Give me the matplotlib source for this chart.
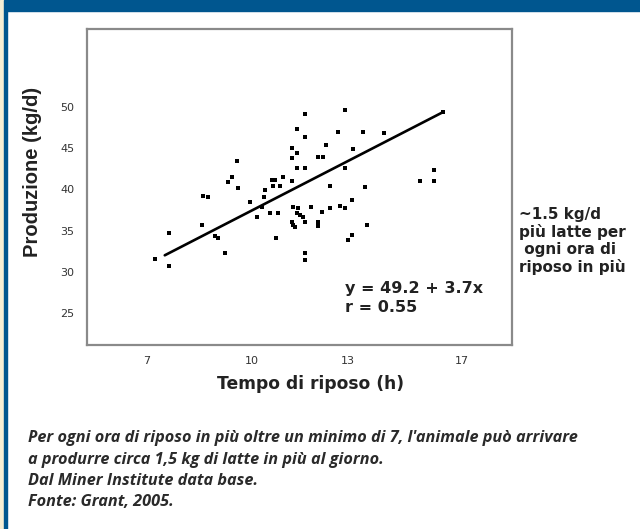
import numpy as np
import matplotlib
matplotlib.use("Agg")
import matplotlib.pyplot as plt

# ore di riposo (h) e produzione di latte (kg/d)
riposo = [7.23, 7.64, 7.64, 8.56, 8.61, 8.75, 8.94, 9.04, 9.23, 9.32,
          9.42, 9.56, 9.59, 9.94, 10.15, 10.31, 10.38, 10.41, 10.62, 10.72,
          10.98, 11.24, 10.67, 10.88, 10.56, 10.82, 10.75, 11.24, 11.40, 11.24,
          11.40, 11.66, 11.66, 11.40, 11.66, 11.29, 11.45, 11.40, 11.50, 11.60,
          11.24, 11.29, 11.34, 11.66, 11.84, 12.07, 12.07, 12.18, 11.66, 11.66,
          12.07, 12.21, 12.31, 12.44, 12.44, 12.70, 12.91, 12.75, 12.91, 12.91,
          13.16, 13.13, 13.13, 13.01, 13.52, 13.60, 13.68, 14.26, 15.53, 16.00,
          16.00, 16.32]
latte = [31.6, 30.7, 34.7, 35.7, 39.2, 39.1, 34.3, 34.1, 32.3, 40.9,
         41.5, 43.4, 40.2, 38.5, 36.7, 37.9, 39.1, 39.9, 41.1, 41.1,
         41.5, 41.0, 40.4, 40.4, 37.2, 37.2, 34.1, 45.0, 44.4, 43.8,
         47.3, 49.2, 46.4, 42.6, 42.6, 37.9, 37.8, 37.1, 36.9, 36.7,
         36.1, 35.7, 35.4, 36.1, 37.9, 36.0, 35.6, 37.3, 32.3, 31.4,
         43.9, 43.9, 45.4, 40.4, 37.8, 47.0, 49.6, 38.0, 37.7, 42.6,
         44.9, 38.7, 34.5, 33.8, 47.0, 40.3, 35.7, 46.9, 41.0, 42.4,
         41.0, 49.4]

# retta di regressione (estremi)
retta_x = [7.51, 16.33]
retta_y = [32.0, 49.4]

x_ticks = [7, 10, 13, 17]
y_ticks = [25, 30, 35, 40, 45, 50]

blu = "#00568f"

# l'asse x originale non è lineare: scala a tratti sulle etichette
_ore = [4, 7, 10, 13, 17, 20]
_pos = [42, 147, 252, 348, 462, 547.5]


def avanti(h):
    return np.interp(h, _ore, _pos)


def indietro(p):
    return np.interp(p, _pos, _ore)


fig = plt.figure(figsize=(6.4, 5.29), dpi=100)
fig.patch.set_facecolor("white")

# cornice blu in alto e a sinistra
fig.patches.append(plt.Rectangle((0, 1 - 11 / 529), 1, 11 / 529,
                                 transform=fig.transFigure, color=blu, zorder=0))
fig.patches.append(plt.Rectangle((0, 0), 4 / 640, 1, transform=fig.transFigure,
                                 color="#f6eed4", zorder=0))
fig.patches.append(plt.Rectangle((4 / 640, 0), 2.5 / 640, 1,
                                 transform=fig.transFigure, color=blu, zorder=0))

ax = fig.add_axes([87 / 640, 1 - 345 / 529, 425 / 640, 316 / 529])
ax.set_xscale("function", functions=(avanti, indietro))
ax.set_xlim(5.29, 18.75)
ax.set_ylim(21.1, 59.5)

ax.plot(riposo, latte, "s", color="black", ms=3.1, mew=0)
ax.plot(retta_x, retta_y, color="black", lw=1.9, solid_capstyle="round")

ax.set_xticks(x_ticks)
ax.set_xticklabels([str(t) for t in x_ticks])
ax.set_yticks(y_ticks)
ax.set_yticklabels([str(t) for t in y_ticks])
ax.minorticks_off()
ax.tick_params(length=0, labelsize=8, labelcolor="#333333")
ax.tick_params(axis="x", pad=8)
ax.tick_params(axis="y", pad=9)

for s in ax.spines.values():
    s.set_color("#8a8a8a")
    s.set_linewidth(1.6)

ax.set_ylabel("Produzione (kg/d)", fontsize=14.5, fontweight="bold",
              family="Liberation Sans", color="#222222")
ax.yaxis.set_label_coords(-0.106, 0.547)
ax.set_xlabel("Tempo di riposo (h)", fontsize=12.3, fontweight="bold", color="#222222")
ax.xaxis.set_label_coords(0.527, -0.095)

ax.text(0.606, 0.15, "y = 49.2 + 3.7x\nr = 0.55", transform=ax.transAxes,
        fontsize=11.5, fontweight="bold", color="#222222", linespacing=1.35,
        va="center", ha="left")

fig.text(519 / 640, 1 - 241 / 529, "~1.5 kg/d\npiù latte per\n ogni ora di\nriposo in più",
         fontsize=11, fontweight="bold", color="#222222", linespacing=1.15,
         va="center", ha="left")

didascalia = ["Per ogni ora di riposo in più oltre un minimo di 7, l'animale può arrivare",
              "a produrre circa 1,5 kg di latte in più al giorno.",
              "Dal Miner Institute data base.",
              "Fonte: Grant, 2005."]
for i, riga in enumerate(didascalia):
    fig.text(28 / 640, 1 - (438 + i * 21.5) / 529, riga, fontsize=11.7,
             family="Open Sans", style="italic", fontweight="bold",
             color="#2a2a2a", va="center", ha="left")

fig.savefig("out.png", dpi=100)
